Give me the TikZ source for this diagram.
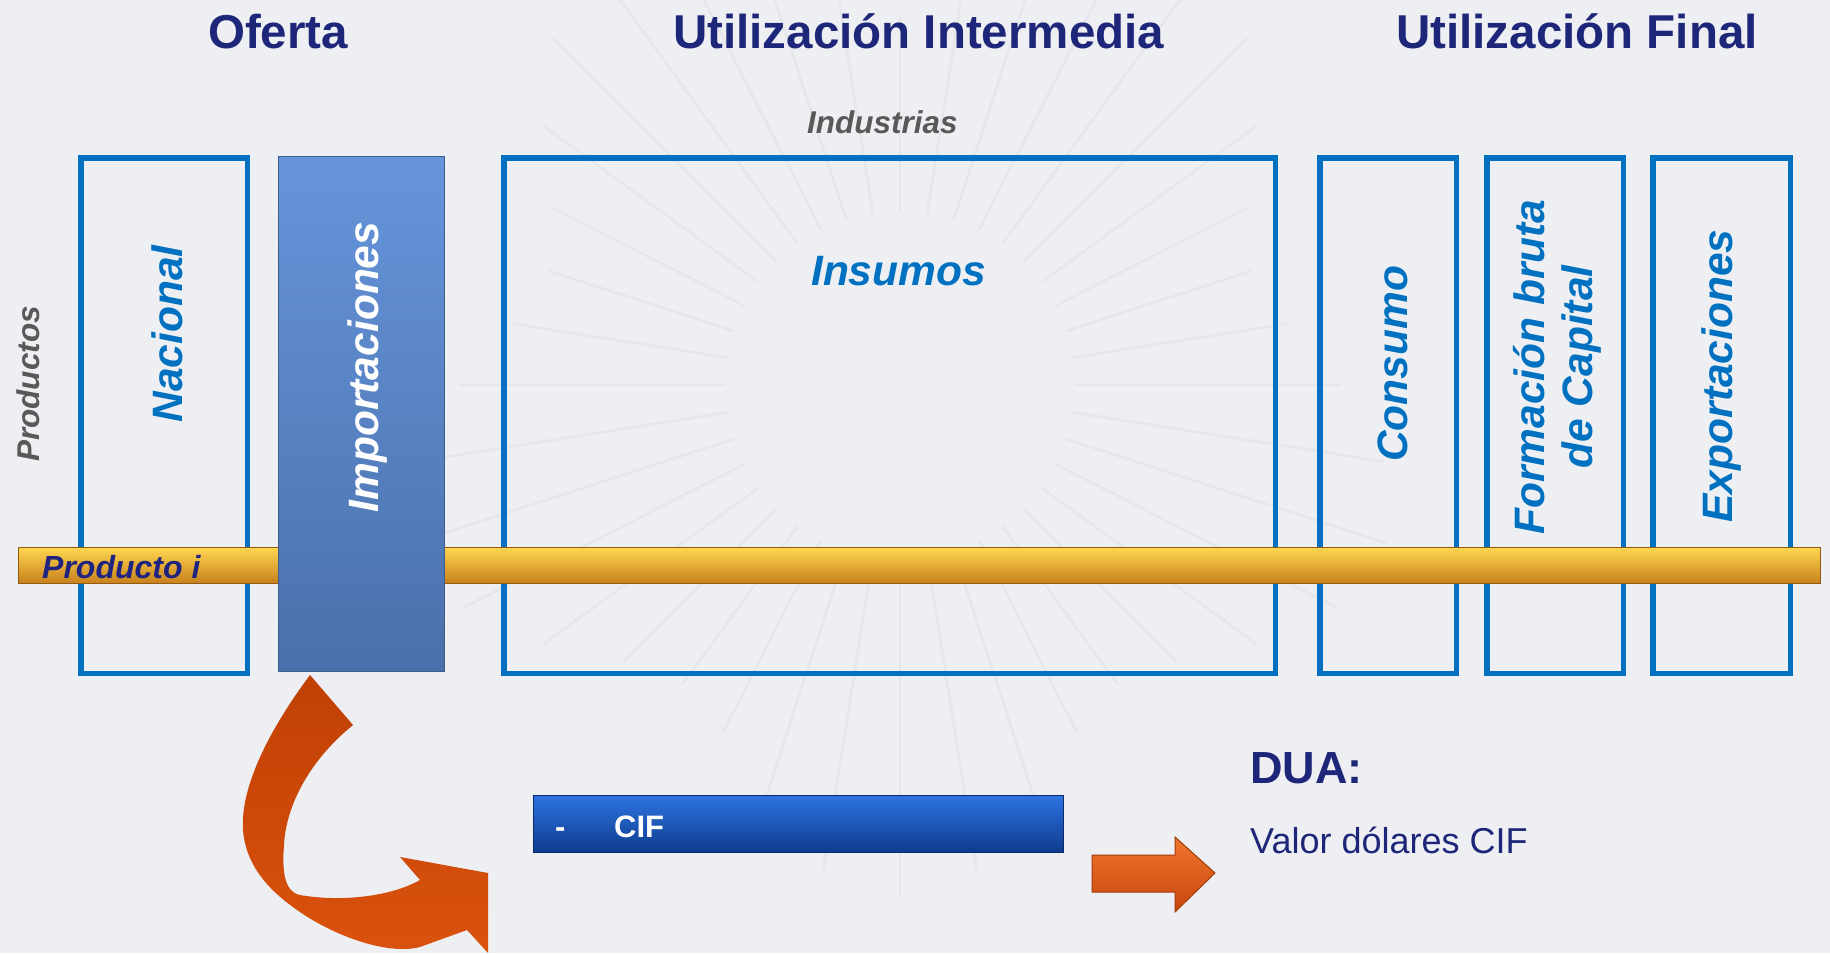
\documentclass[tikz,border=0pt]{standalone}
\usepackage{fontspec}
\setmainfont{Liberation Sans}
\definecolor{bgc}{RGB}{237,239,242}
\definecolor{rayc}{RGB}{229,231,235}
\definecolor{navy}{RGB}{30,38,122}
\definecolor{boxblue}{RGB}{0,112,192}
\definecolor{graytx}{RGB}{89,89,89}
\definecolor{prodnavy}{RGB}{30,36,128}
\definecolor{impTop}{RGB}{102,149,219}
\definecolor{impBot}{RGB}{74,112,170}
\definecolor{impLine}{RGB}{62,92,140}
\definecolor{barTop}{RGB}{255,214,80}
\definecolor{barMid}{RGB}{238,163,40}
\definecolor{barBot}{RGB}{200,128,28}
\definecolor{barLine}{RGB}{145,92,18}
\definecolor{cifTop}{RGB}{45,115,225}
\definecolor{cifMid}{RGB}{21,80,180}
\definecolor{cifBot}{RGB}{14,58,140}
\definecolor{cifLine}{RGB}{10,42,105}
\definecolor{arrTop}{RGB}{192,64,4}
\definecolor{arrBot}{RGB}{218,82,14}
\definecolor{sarTop}{RGB}{240,118,45}
\definecolor{sarBot}{RGB}{200,70,14}
\definecolor{sarLine}{RGB}{165,58,10}
\tikzset{
  obox/.style={draw=boxblue, line width=5.5pt, inner sep=0pt, rectangle},
  titletxt/.style={inner sep=0pt, text=navy, font={\fontsize{47.5}{57}\selectfont\bfseries}},
  graytxt/.style={inner sep=0pt, text=graytx, font={\fontsize{31.5}{38}\selectfont\bfseries\itshape}},
  bluetxt/.style={inner sep=0pt, text=boxblue, font={\fontsize{42.5}{48}\selectfont\bfseries\itshape}},
  whitetxt/.style={inner sep=0pt, text=white, font={\fontsize{42.5}{48}\selectfont\bfseries\itshape}},
  prodtxt/.style={inner sep=0pt, text=prodnavy, font={\fontsize{32}{38}\selectfont\bfseries\itshape}},
  ciftxt/.style={inner sep=0pt, text=white, font={\fontsize{31}{37}\selectfont\bfseries}},
  duatxt/.style={inner sep=0pt, text=navy, font={\fontsize{45}{54}\selectfont\bfseries}},
  valtxt/.style={inner sep=0pt, text=navy, font={\fontsize{36}{43}\selectfont}},
  raystyle/.style={draw=rayc, line width=2.5pt, line cap=round}
}
\begin{document}
\begin{tikzpicture}[x=1pt,y=-1pt]
\useasboundingbox (0,0) rectangle (1830,953);
\fill[bgc] (0,0) rectangle (1830,953);
% faint background rays
\begin{scope}[shift={(900,385)}]
\foreach \a in {0,9,...,351}
  \draw[raystyle] (\a:175) -- (\a:{440+70*sin(5*\a)});
\end{scope}

% titles
\node[titletxt, anchor=base west] (tof) at (208,48) {Oferta};
\node[titletxt, anchor=base west] (tui) at (673,48) {Utilización Intermedia};
\node[titletxt, anchor=base west] (tuf) at (1396,48) {Utilización Final};
\node[graytxt, anchor=base west] (tind) at (807,133) {Industrias};

% outlined boxes
\node[obox, minimum width=166.5pt, minimum height=515.5pt] (nac) at (164,415.5) {};
\node[obox, minimum width=771.5pt, minimum height=515.5pt] (ins) at (889.5,415.5) {};
\node[obox, minimum width=136.5pt, minimum height=515.5pt] (con) at (1388,415.5) {};
\node[obox, minimum width=136.5pt, minimum height=515.5pt] (fbk) at (1555,415.5) {};
\node[obox, minimum width=137.5pt, minimum height=515.5pt] (exp) at (1721.5,415.5) {};

% product bar
\node[rectangle, inner sep=0pt, draw=barLine, line width=1pt, top color=barTop, middle color=barMid, bottom color=barBot, minimum width=1802pt, minimum height=36pt] (bar) at (919.5,565.5) {};

% importaciones box
\node[rectangle, inner sep=0pt, draw=impLine, line width=1pt, top color=impTop, bottom color=impBot, minimum width=166pt, minimum height=515pt] (imp) at (361.5,414) {};

% labels
\node[graytxt, rotate=90, anchor=base] (tprod) at (39,384) {Productos};
\node[bluetxt, rotate=90, anchor=base] (tnac) at (182,334) {Nacional};
\node[whitetxt, rotate=90, anchor=base] (timp) at (378,367) {Importaciones};
\node[bluetxt, anchor=base west] (tins) at (811,285) {Insumos};
\node[bluetxt, rotate=90, anchor=base] (tcon) at (1407,364) {Consumo};
\node[bluetxt, rotate=90, align=center] (tfbk) at (1557,367) {Formación bruta\\de Capital};
\node[bluetxt, rotate=90, anchor=base] (texp) at (1732,376) {Exportaciones};
\node[prodtxt, anchor=base west] (tpi) at (42,578) {Producto i};

% CIF box
\node[rectangle, inner sep=0pt, draw=cifLine, line width=1pt, top color=cifTop, middle color=cifMid, bottom color=cifBot, minimum width=530pt, minimum height=57pt] (cif) at (798.5,824) {};
\node[ciftxt, anchor=base west] (tdash) at (555,837) {-};
\node[ciftxt, anchor=base west] (tcif) at (614,837) {CIF};

% DUA text
\node[duatxt, anchor=base west] (tdua) at (1250,783) {DUA:};
\node[valtxt, anchor=base west] (tval) at (1250,853) {Valor dólares CIF};

% curved arrow
\shade[top color=arrTop, bottom color=arrBot]
  (310,675) .. controls (272,726) and (240,785) .. (243,830)
  .. controls (246,868) and (272,893) .. (300,912)
  .. controls (330,933) and (385,956) .. (420,947)
  -- (467,930) -- (488,953) -- (488,873) -- (400,857) -- (420,880)
  .. controls (390,897) and (340,902) .. (300,895)
  .. controls (284,892) and (282,870) .. (284,845)
  .. controls (286,805) and (310,760) .. (353,725) -- cycle;

% small straight arrow
\shadedraw[top color=sarTop, bottom color=sarBot, draw=sarLine, line width=1pt]
  (1092,855) -- (1175,855) -- (1175,837) -- (1215,873) -- (1175,912) -- (1175,892) -- (1092,892) -- cycle;
\end{tikzpicture}
\end{document}
